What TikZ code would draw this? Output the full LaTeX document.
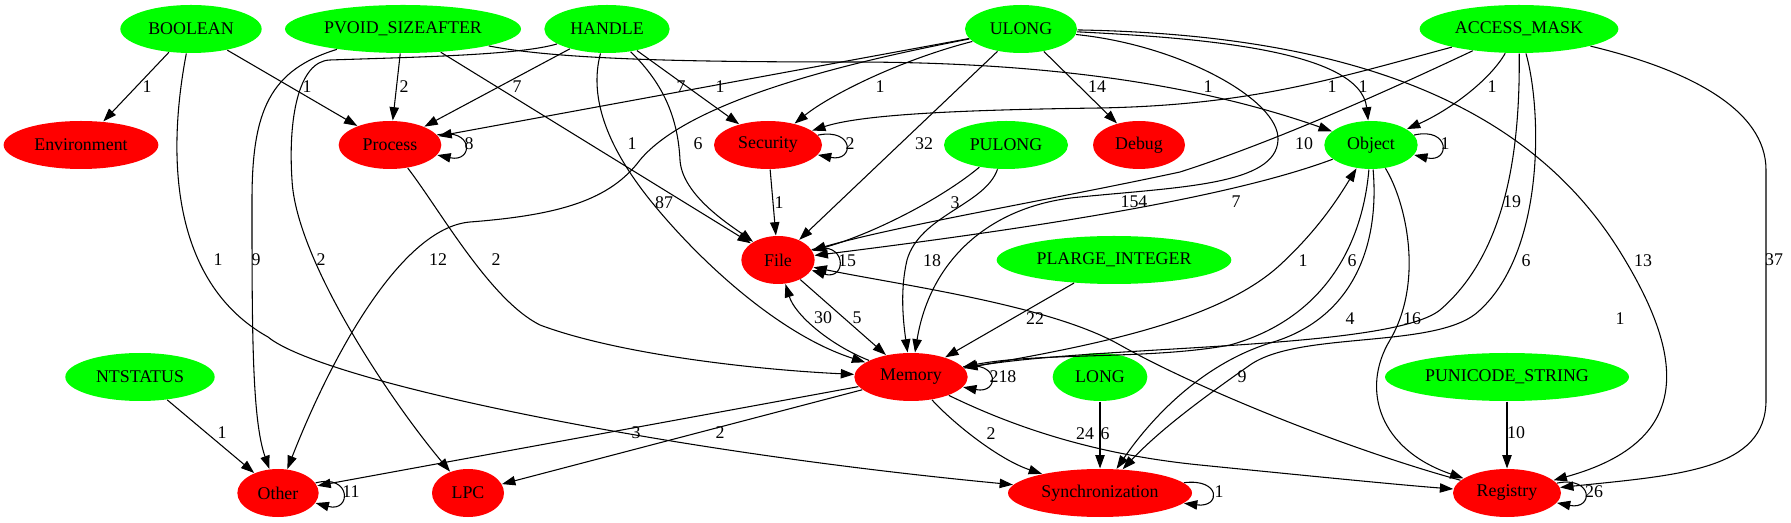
\documentclass[tikz,border=0pt]{standalone}
\usepackage{fontspec}
\setmainfont{Liberation Serif}
\usetikzlibrary{arrows.meta, shapes.geometric, positioning}

\begin{document}
\begin{tikzpicture}[x=0.75pt, y=-0.75pt, line width=0.8pt,
                        font=\fontsize{13.4}{16}\selectfont,
                        >={Triangle[length=10pt, width=7pt]},
                        typenode/.style={ellipse, fill=green, inner sep=0pt, minimum height=36pt},
                        groupnode/.style={ellipse, fill=red, inner sep=0pt, minimum height=36pt},
                        elabel/.style={inner sep=0pt},
                        selfloop/.style={->, out=#1, in=-#1, min distance=28pt}]
                        \useasboundingbox (0, 0) rectangle (1791, 523);
                        \node[typenode, minimum width=106pt] (boolean) at (191, 29) {BOOLEAN};
                        \node[typenode, minimum width=177pt] (pvoid) at (403, 29) {PVOID\_SIZEAFTER};
                        \node[typenode, minimum width=94pt] (handle) at (607, 29) {HANDLE};
                        \node[typenode, minimum width=84pt] (ulong) at (1021, 29) {ULONG};
                        \node[typenode, minimum width=149pt] (accessmask) at (1519, 29) {ACCESS\_MASK};
                        \node[groupnode, minimum width=116pt] (environment) at (81, 145) {Environment};
                        \node[groupnode, minimum width=77pt] (process) at (390, 145) {Process};
                        \node[groupnode, minimum width=81pt] (security) at (768, 145) {Security};
                        \node[typenode, minimum width=93pt] (pulong) at (1006, 145) {PULONG};
                        \node[groupnode, minimum width=69pt] (debug) at (1139, 145) {Debug};
                        \node[typenode, minimum width=70pt] (object) at (1371, 145) {Object};
                        \node[groupnode, minimum width=55pt] (file) at (778, 260) {File};
                        \node[typenode, minimum width=176pt] (plarge) at (1114, 260) {PLARGE\_INTEGER};
                        \node[typenode, minimum width=112pt] (ntstatus) at (140, 377) {NTSTATUS};
                        \node[groupnode, minimum width=85pt] (memory) at (911, 377) {Memory};
                        \node[typenode, minimum width=71pt] (long) at (1100, 377) {LONG};
                        \node[typenode, minimum width=183pt] (punicode) at (1507, 377) {PUNICODE\_STRING};
                        \node[groupnode, minimum width=61pt] (other) at (278, 493) {Other};
                        \node[groupnode, minimum width=54pt] (lpc) at (468, 493) {LPC};
                        \node[groupnode, minimum width=138pt] (sync) at (1100, 493) {Synchronization};
                        \node[groupnode, minimum width=81pt] (registry) at (1507, 493) {Registry};
                        \draw
                        (boolean) edge[->] (environment)
                        (boolean) edge[->] (process)
                        (pvoid) edge[->] (process)
                        (pvoid) edge[->] (file)
                        (handle) edge[->] (process)
                        (handle) edge[->] (security)
                        (ulong) edge[->] (process)
                        (ulong) edge[->] (file)
                        (ulong) edge[->] (debug)
                        (security) edge[->] (file)
                        (file) edge[->] (memory)
                        (plarge) edge[->] (memory)
                        (memory) edge[->] (other)
                        (memory) edge[->] (lpc)
                        (long) edge[->] (sync)
                        (ntstatus) edge[->] (other)
                        (punicode) edge[->] (registry);
                        \draw
                        (process) edge[selfloop=12] (process)
                        (security) edge[selfloop=11.5] (security)
                        (file) edge[selfloop=17] (file)
                        (object) edge[selfloop=13] (object)
                        (memory) edge[selfloop=11] (memory)
                        (other) edge[selfloop=15] (other)
                        (sync) edge[selfloop=7] (sync)
                        (registry) edge[selfloop=11.5] (registry);
                        \draw[->] (boolean) .. controls (165, 165) and (175, 285) .. (268, 337) .. controls (320, 380) and (650, 450) .. (sync);
                        \draw[->] (pvoid) .. controls (270, 70) and (252, 110) .. (252, 200) .. controls (252, 330) and (252, 420) .. (other);
                        \draw[->] (pvoid) .. controls (560, 60) and (700, 62) .. (850, 62) .. controls (1050, 62) and (1200, 85) .. (object);
                        \draw[->] (handle) .. controls (520, 55) and (420, 57) .. (330, 60) .. controls (298, 61) and (288, 120) .. (292, 180) .. controls (296, 260) and (390, 400) .. (lpc);
                        \draw[->] (handle) .. controls (665, 85) and (678, 120) .. (680, 160) .. controls (682, 195) and (730, 225) .. (file);
                        \draw[->] (handle) .. controls (588, 100) and (610, 150) .. (650, 200) .. controls (700, 262) and (780, 335) .. (memory);
                        \draw[->] (ulong) .. controls (900, 60) and (830, 95) .. (security);
                        \draw[->] (ulong) .. controls (850, 62) and (690, 100) .. (640, 160) .. controls (610, 200) and (560, 215) .. (470, 222) .. controls (400, 228) and (330, 360) .. (other);
                        \draw[->] (ulong) .. controls (1200, 38) and (1360, 50) .. (object);
                        \draw[->] (ulong) .. controls (1180, 45) and (1280, 100) .. (1278, 140) .. controls (1276, 185) and (1180, 187) .. (1080, 197) .. controls (990, 205) and (930, 260) .. (memory);
                        \draw[->] (ulong) .. controls (1380, 35) and (1540, 120) .. (1622, 255) .. controls (1680, 350) and (1700, 440) .. (registry);
                        \draw[->] (accessmask) .. controls (1330, 80) and (1250, 105) .. (1100, 108) .. controls (950, 110) and (860, 115) .. (security);
                        \draw[->] (accessmask) .. controls (1400, 85) and (1280, 140) .. (1180, 172) .. controls (1050, 200) and (900, 225) .. (file);
                        \draw[->] (accessmask) .. controls (1490, 80) and (1450, 110) .. (object);
                        \draw[->] (accessmask) .. controls (1520, 140) and (1510, 250) .. (1440, 310) .. controls (1390, 350) and (1100, 345) .. (memory);
                        \draw[->] (accessmask) .. controls (1542, 110) and (1545, 250) .. (1480, 310) .. controls (1440, 350) and (1300, 330) .. (1250, 365) .. controls (1200, 400) and (1160, 430) .. (sync);
                        \draw[->] (accessmask) .. controls (1690, 70) and (1766, 110) .. (1766, 170) -- (1766, 400) .. controls (1766, 470) and (1680, 475) .. (registry);
                        \draw[->] (process) .. controls (440, 210) and (490, 300) .. (540, 325) .. controls (620, 355) and (760, 370) .. (memory);
                        \draw[->] (pulong) .. controls (940, 200) and (870, 235) .. (file);
                        \draw[->] (pulong) .. controls (985, 205) and (920, 215) .. (907, 260) .. controls (900, 290) and (903, 320) .. (memory);
                        \draw[->] (object) .. controls (1250, 190) and (1100, 220) .. (file);
                        \draw[->] (object) .. controls (1362, 250) and (1320, 320) .. (1230, 345) .. controls (1150, 360) and (1040, 352) .. (memory);
                        \draw[->] (object) .. controls (1380, 250) and (1350, 320) .. (1270, 343) .. controls (1200, 365) and (1150, 420) .. (sync);
                        \draw[->] (object) .. controls (1405, 200) and (1425, 280) .. (1390, 340) .. controls (1360, 390) and (1380, 450) .. (registry);
                        \draw[->] (memory) .. controls (830, 345) and (795, 315) .. (file);
                        \draw[->] (memory) .. controls (1100, 345) and (1220, 320) .. (1280, 265) .. controls (1320, 228) and (1340, 195) .. (object);
                        \draw[->] (memory) .. controls (955, 425) and (1000, 460) .. (sync);
                        \draw[->] (memory) .. controls (1020, 430) and (1100, 455) .. (1200, 465) .. controls (1300, 475) and (1400, 485) .. (registry);
                        \draw[->] (registry) .. controls (1350, 450) and (1200, 390) .. (1120, 345) .. controls (1050, 305) and (900, 285) .. (file);
                        \node[elabel] (lab1) at (147, 87) {1};
                        \node[elabel] (lab2) at (307, 87) {1};
                        \node[elabel] (lab3) at (404, 87) {2};
                        \node[elabel] (lab4) at (517, 87) {7};
                        \node[elabel] (lab5) at (681, 87) {7};
                        \node[elabel] (lab6) at (720, 87) {1};
                        \node[elabel] (lab7) at (880, 87) {1};
                        \node[elabel] (lab8) at (1097, 87) {14};
                        \node[elabel] (lab9) at (1208, 87) {1};
                        \node[elabel] (lab10) at (1332, 87) {1};
                        \node[elabel] (lab11) at (1363, 87) {1};
                        \node[elabel] (lab12) at (1492, 87) {1};
                        \node[elabel] (lab13) at (469, 144) {8};
                        \node[elabel] (lab14) at (632, 144) {1};
                        \node[elabel] (lab15) at (698, 144) {6};
                        \node[elabel] (lab16) at (850, 144) {2};
                        \node[elabel] (lab17) at (924, 144) {32};
                        \node[elabel] (lab18) at (1304, 144) {10};
                        \node[elabel] (lab19) at (1445, 144) {1};
                        \node[elabel] (lab20) at (664, 203) {87};
                        \node[elabel] (lab21) at (779, 203) {1};
                        \node[elabel] (lab22) at (955, 203) {3};
                        \node[elabel] (lab23) at (1134, 202) {154};
                        \node[elabel] (lab24) at (1236, 202) {7};
                        \node[elabel] (lab25) at (1512, 202) {19};
                        \node[elabel] (lab26) at (218, 260) {1};
                        \node[elabel] (lab27) at (256, 260) {9};
                        \node[elabel] (lab28) at (321, 260) {2};
                        \node[elabel] (lab29) at (438, 260) {12};
                        \node[elabel] (lab30) at (496, 260) {2};
                        \node[elabel] (lab31) at (847, 261) {15};
                        \node[elabel] (lab32) at (932, 261) {18};
                        \node[elabel] (lab33) at (1303, 261) {1};
                        \node[elabel] (lab34) at (1352, 261) {6};
                        \node[elabel] (lab35) at (1526, 261) {6};
                        \node[elabel] (lab36) at (1643, 261) {13};
                        \node[elabel] (lab37) at (1774, 260) {37};
                        \node[elabel] (lab38) at (823, 318) {30};
                        \node[elabel] (lab39) at (857, 318) {5};
                        \node[elabel] (lab40) at (1035, 319) {22};
                        \node[elabel] (lab41) at (1350, 319) {4};
                        \node[elabel] (lab42) at (1412, 319) {16};
                        \node[elabel] (lab43) at (1620, 319) {1};
                        \node[elabel] (lab44) at (1003, 377) {218};
                        \node[elabel] (lab45) at (1242, 377) {9};
                        \node[elabel] (lab46) at (222, 433) {1};
                        \node[elabel] (lab47) at (636, 433) {3};
                        \node[elabel] (lab48) at (720, 433) {2};
                        \node[elabel] (lab49) at (991, 434) {2};
                        \node[elabel] (lab50) at (1085, 434) {24};
                        \node[elabel] (lab51) at (1105, 434) {6};
                        \node[elabel] (lab52) at (1516, 433) {10};
                        \node[elabel] (lab53) at (351, 492) {11};
                        \node[elabel] (lab54) at (1219, 492) {1};
                        \node[elabel] (lab55) at (1594, 492) {26};
                    \end{tikzpicture}
\end{document}
